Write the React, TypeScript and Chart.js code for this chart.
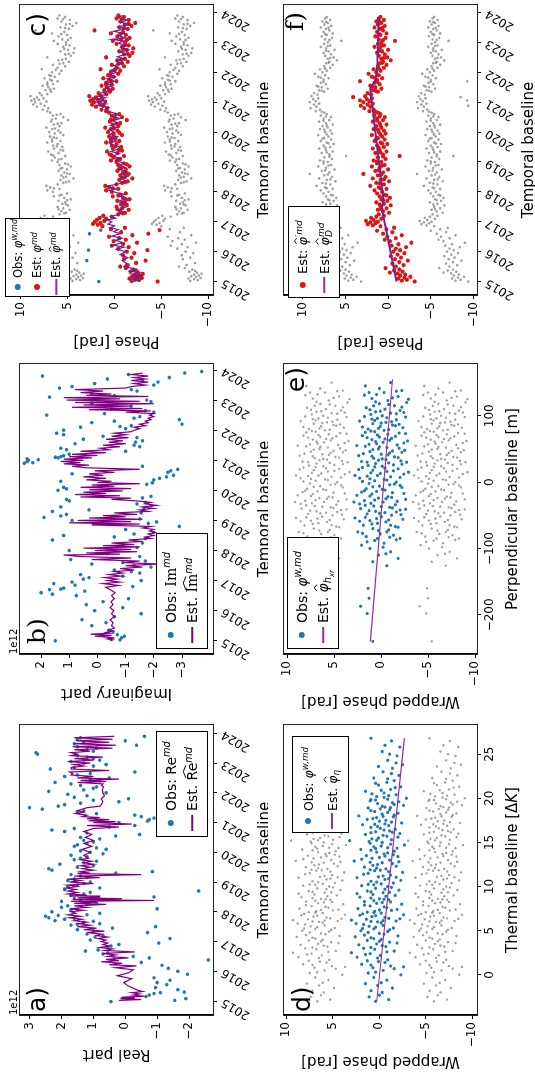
import React, { useEffect, useRef } from "react";
import { Chart, registerables } from "chart.js";
Chart.register(...registerables);

type Pt = [number, number];
const TAU = 2 * Math.PI;
const SANS = '"DejaVu Sans", sans-serif';
const SERIF = '"DejaVu Serif", serif';
Chart.defaults.font.family = SANS;

// ---------------- DATA ----------------
const yearTicks = [2015, 2016, 2017, 2018, 2019, 2020, 2021, 2022, 2023, 2024];
const realTicks = [-2, -1, 0, 1, 2, 3];
const imagTicks = [-3, -2, -1, 0, 1, 2];
const phaseTicks = [-10, -5, 0, 5, 10];
const thermalTicks = [0, 5, 10, 15, 20, 25];
const perpTicks = [-200, -100, 0, 100];

// a) real part (x1e12)
const realObs: Pt[] = [[2014.98,0.45],[2015.02,-1.55],[2015.08,-1.9],[2015.15,-0.65],[2015.2,-0.75],[2015.25,-0.9],[2015.28,-1.1],[2015.3,-1.85],[2015.38,-1.65],[2015.45,-0.95],[2015.55,-1.3],[2015.62,-1.0],[2015.7,-1.4],[2015.78,-0.9],[2015.9,-1.95],[2016.0,-1.65],[2016.1,-1.35],[2016.2,-1.15],[2016.3,-0.5],[2016.38,-2.6],[2016.42,0.35],[2016.45,-0.75],[2016.5,-0.25],[2016.58,0.7],[2016.62,0.55],[2016.68,1.25],[2016.72,0.85],[2016.8,0.55],[2016.85,0.45],[2016.9,0.2],[2016.95,-1.05],[2017.05,1.1],[2017.1,-1.4],[2017.15,0.95],[2017.2,0.7],[2017.25,1.2],[2017.3,-0.7],[2017.35,1.0],[2017.4,1.5],[2017.45,0.4],[2017.5,-0.95],[2017.55,1.7],[2017.6,0.8],[2017.65,1.3],[2017.7,2.2],[2017.75,1.9],[2017.8,2.4],[2017.85,2.5],[2017.9,1.2],[2017.95,0.8],[2018.0,2.3],[2018.05,1.7],[2018.1,-1.0],[2018.15,2.0],[2018.2,1.8],[2018.3,0.9],[2018.4,1.4],[2018.5,-0.9],[2018.55,1.7],[2018.6,1.3],[2018.7,-2.3],[2018.75,1.9],[2018.8,0.8],[2018.9,1.5],[2019.0,1.1],[2019.1,1.6],[2019.2,1.4],[2019.3,0.3],[2019.35,-0.85],[2019.4,2.3],[2019.45,2.4],[2019.5,1.5],[2019.6,2.05],[2019.65,1.3],[2019.7,0.9],[2019.8,1.4],[2019.9,1.7],[2020.0,1.1],[2020.1,0.6],[2020.2,1.6],[2020.3,1.2],[2020.4,1.3],[2020.5,1.4],[2020.55,0.3],[2020.6,-0.45],[2020.7,1.9],[2020.75,2.3],[2020.8,1.6],[2020.85,0.5],[2020.9,-0.3],[2021.0,0.2],[2021.05,-0.7],[2021.1,-0.75],[2021.15,-0.9],[2021.2,-0.5],[2021.25,-0.3],[2021.3,0.9],[2021.4,1.3],[2021.45,2.6],[2021.5,3.0],[2021.55,2.1],[2021.6,1.9],[2021.65,1.4],[2021.7,0.2],[2021.75,1.0],[2021.8,-0.1],[2021.85,1.6],[2021.9,1.2],[2022.0,0.6],[2022.05,2.4],[2022.1,1.3],[2022.2,0.9],[2022.3,1.7],[2022.35,2.2],[2022.45,1.1],[2022.5,0.5],[2022.6,1.5],[2022.7,-0.3],[2022.75,-1.05],[2022.8,2.35],[2022.9,1.0],[2023.0,1.3],[2023.1,0.8],[2023.2,1.2],[2023.3,2.75],[2023.35,2.8],[2023.4,1.0],[2023.5,0.9],[2023.55,1.5],[2023.6,-0.35],[2023.7,1.3],[2023.75,0.0],[2023.8,1.5],[2023.85,1.4],[2023.9,-0.6],[2017.58,1.5],[2017.68,1.0],[2017.78,1.6],[2017.88,2.1],[2018.08,1.5],[2018.25,1.2],[2018.35,2.0],[2018.45,1.6],[2018.65,1.1],[2018.85,1.8],[2018.95,1.3],[2019.05,1.8],[2019.15,1.2],[2019.25,1.7],[2019.55,1.0],[2019.75,1.6],[2019.85,1.2],[2019.95,0.7],[2020.05,1.4],[2020.15,0.9],[2020.25,1.5],[2020.35,1.0],[2020.45,0.8],[2020.65,1.2],[2021.35,1.5],[2021.95,1.8],[2022.15,1.0],[2022.25,1.4],[2022.4,0.8],[2022.55,1.9],[2022.65,1.1],[2022.85,1.6],[2022.95,0.6],[2023.05,1.7],[2023.15,1.0],[2023.25,1.5],[2023.45,1.2],[2023.65,1.6]];
const realEst: Pt[] = [[2015.02,0.2],[2015.05,-0.5],[2015.08,0.15],[2015.1,-0.3],[2015.13,0.1],[2015.16,-0.6],[2015.2,-0.25],[2015.24,-0.45],[2015.28,-0.2],[2015.32,-0.55],[2015.36,-0.4],[2015.5,-0.1],[2015.62,0.05],[2015.75,-0.2],[2015.85,0.25],[2015.95,-0.1],[2016.05,-0.25],[2016.12,0.3],[2016.18,-0.35],[2016.22,0.5],[2016.27,0.1],[2016.32,0.75],[2016.36,0.2],[2016.4,0.6],[2016.45,-0.1],[2016.5,0.55],[2016.55,0.3],[2016.6,0.7],[2016.65,-0.3],[2016.7,0.65],[2016.75,0.4],[2016.8,0.8],[2016.85,0.5],[2016.9,0.7],[2016.95,0.55],[2017.0,0.75],[2017.05,0.6],[2017.1,0.85],[2017.15,0.55],[2017.2,0.9],[2017.25,0.75],[2017.3,1.2],[2017.35,0.65],[2017.4,1.3],[2017.45,0.9],[2017.5,1.5],[2017.55,1.1],[2017.6,1.45],[2017.65,1.2],[2017.7,1.6],[2017.75,1.35],[2017.8,1.75],[2017.85,1.4],[2017.9,1.8],[2017.95,1.55],[2018.0,1.7],[2018.05,1.3],[2018.1,1.75],[2018.15,1.2],[2018.2,1.6],[2018.25,0.6],[2018.28,1.6],[2018.32,0.9],[2018.35,1.7],[2018.38,-0.9],[2018.41,1.65],[2018.44,0.1],[2018.47,1.5],[2018.5,0.8],[2018.53,1.75],[2018.56,1.2],[2018.6,1.8],[2018.65,1.5],[2018.7,1.8],[2018.75,1.55],[2018.8,1.85],[2018.85,1.5],[2018.9,1.8],[2018.95,1.0],[2019.0,1.75],[2019.05,1.4],[2019.1,1.8],[2019.15,0.8],[2019.2,1.6],[2019.25,-0.5],[2019.28,1.5],[2019.3,1.1],[2019.35,1.4],[2019.4,1.0],[2019.45,1.35],[2019.5,1.1],[2019.55,1.4],[2019.6,1.0],[2019.65,1.3],[2019.7,1.05],[2019.75,1.4],[2019.8,1.15],[2019.9,1.3],[2020.0,1.1],[2020.1,1.35],[2020.2,1.05],[2020.3,1.3],[2020.4,1.0],[2020.5,1.25],[2020.6,1.05],[2020.7,1.3],[2020.8,1.0],[2020.85,0.2],[2020.9,1.2],[2020.95,-0.2],[2021.0,1.0],[2021.03,0.3],[2021.06,1.15],[2021.1,0.5],[2021.13,1.2],[2021.17,0.8],[2021.2,1.35],[2021.25,1.2],[2021.3,1.55],[2021.35,1.3],[2021.4,1.5],[2021.45,1.35],[2021.5,1.2],[2021.55,0.8],[2021.6,0.75],[2021.7,0.7],[2021.8,0.75],[2021.9,0.65],[2022.0,0.7],[2022.1,0.72],[2022.2,0.68],[2022.25,0.75],[2022.3,0.7],[2022.35,1.5],[2022.38,0.6],[2022.42,1.4],[2022.46,0.2],[2022.5,1.5],[2022.55,1.0],[2022.6,1.7],[2022.65,1.65],[2022.7,1.75],[2022.75,0.5],[2022.8,1.7],[2022.85,1.7],[2022.9,1.3],[2022.95,1.6],[2023.0,1.1],[2023.05,1.8],[2023.1,1.0],[2023.15,1.6],[2023.2,0.7],[2023.25,1.7],[2023.3,1.5],[2023.35,1.7],[2023.4,1.1],[2023.45,1.6],[2023.5,0.4],[2023.55,1.65],[2023.6,0.3],[2023.65,1.6],[2023.7,0.5],[2023.75,1.55],[2023.8,0.4],[2023.85,1.6],[2023.9,0.35]];

// b) imaginary part (x1e12)
const imagObs: Pt[] = [[2015.0,1.5],[2015.03,-0.8],[2015.1,-0.85],[2015.15,-0.95],[2015.2,-0.7],[2015.3,-0.55],[2015.35,-0.4],[2015.5,0.2],[2015.6,-0.3],[2015.7,0.55],[2015.8,-0.6],[2015.9,-1.55],[2016.0,0.1],[2016.1,-0.9],[2016.2,0.4],[2016.3,-0.2],[2016.4,-1.1],[2016.5,0.75],[2016.6,2.0],[2016.65,0.45],[2016.7,1.7],[2016.75,1.2],[2016.8,-1.25],[2016.85,0.8],[2016.9,1.55],[2016.95,0.9],[2017.0,-1.55],[2017.05,0.5],[2017.1,0.3],[2017.15,-0.9],[2017.2,0.6],[2017.3,-1.2],[2017.35,-0.6],[2017.45,-1.9],[2017.5,-1.3],[2017.55,0.2],[2017.6,-0.9],[2017.7,0.95],[2017.8,-1.5],[2017.9,-0.35],[2018.0,1.0],[2018.1,-1.4],[2018.2,-0.9],[2018.3,-2.25],[2018.35,1.6],[2018.4,-1.7],[2018.45,-0.6],[2018.5,1.2],[2018.6,-2.0],[2018.7,-1.0],[2018.8,-2.9],[2018.9,-1.8],[2019.0,0.9],[2019.05,-1.5],[2019.1,1.9],[2019.2,1.1],[2019.25,-1.55],[2019.3,1.6],[2019.35,0.3],[2019.4,-1.65],[2019.45,1.3],[2019.5,-1.9],[2019.6,-1.7],[2019.7,1.1],[2019.75,-1.6],[2019.8,-1.9],[2020.0,1.4],[2020.1,1.2],[2020.2,-1.75],[2020.3,1.3],[2020.35,-2.0],[2020.45,-2.45],[2020.5,-2.7],[2020.55,0.9],[2020.6,-2.5],[2020.7,-2.85],[2020.8,-1.6],[2020.9,2.6],[2020.95,2.5],[2021.0,2.45],[2021.02,2.1],[2021.05,2.5],[2021.08,1.4],[2021.1,1.5],[2021.15,1.2],[2021.2,1.0],[2021.3,-1.0],[2021.4,1.3],[2021.5,-1.3],[2021.55,0.8],[2021.6,-1.35],[2021.65,-1.6],[2021.7,0.5],[2021.8,-0.2],[2021.9,1.45],[2022.0,1.2],[2022.05,-1.0],[2022.1,0.6],[2022.15,-1.2],[2022.2,-3.0],[2022.25,0.2],[2022.3,-0.6],[2022.35,-2.9],[2022.4,-1.3],[2022.5,1.8],[2022.55,-0.25],[2022.6,-2.0],[2022.7,-0.5],[2022.8,-1.2],[2022.9,0.2],[2023.0,-1.75],[2023.1,1.7],[2023.2,0.2],[2023.3,-1.4],[2023.4,1.35],[2023.45,0.9],[2023.5,-2.0],[2023.55,0.1],[2023.6,-2.15],[2023.7,-0.35],[2023.75,-2.55],[2023.8,1.95],[2023.85,-1.1],[2023.9,-3.1],[2023.95,-3.7],[2016.55,1.6],[2016.72,1.3],[2017.25,-1.5],[2017.65,-1.7],[2018.25,-1.6],[2018.55,-1.3],[2018.95,-2.1],[2019.15,1.3],[2019.55,-1.4],[2019.65,1.0],[2020.05,1.1],[2020.25,-1.95],[2020.4,-2.2],[2020.65,-2.6],[2020.92,2.3],[2021.12,1.3],[2021.35,1.1],[2021.45,-1.5],[2021.75,-1.4],[2021.85,1.2],[2022.12,-0.8],[2022.45,-1.5],[2022.65,-1.7],[2022.95,-1.9],[2023.15,-0.6],[2023.35,-1.2],[2023.65,-1.6]];
const imagEst: Pt[] = [[2015.0,-0.45],[2015.03,-0.55],[2015.06,-0.35],[2015.09,-0.6],[2015.12,-0.4],[2015.15,0.1],[2015.18,-0.5],[2015.22,0.25],[2015.25,-0.45],[2015.28,-0.3],[2015.32,-0.55],[2015.36,-0.4],[2015.42,-0.6],[2015.5,-0.5],[2015.6,-0.55],[2015.7,-0.45],[2015.8,-0.6],[2015.9,-0.5],[2016.0,-0.58],[2016.1,-0.45],[2016.2,-0.55],[2016.3,-0.48],[2016.4,-0.6],[2016.5,-0.5],[2016.6,-0.62],[2016.7,-0.45],[2016.78,-0.3],[2016.84,-0.75],[2016.9,-0.2],[2016.95,-0.8],[2017.0,-0.35],[2017.05,-0.7],[2017.1,-0.25],[2017.15,-0.85],[2017.2,-0.4],[2017.25,-0.9],[2017.3,-0.6],[2017.35,-1.3],[2017.4,-0.8],[2017.45,-1.6],[2017.5,-1.0],[2017.55,-2.2],[2017.6,-0.9],[2017.65,-1.5],[2017.7,0.2],[2017.75,-1.2],[2017.8,0.6],[2017.85,1.2],[2017.88,-0.8],[2017.92,0.4],[2017.96,-1.4],[2018.0,0.1],[2018.04,-1.2],[2018.08,0.5],[2018.12,-1.5],[2018.16,-0.2],[2018.2,-1.3],[2018.25,-0.5],[2018.3,-1.6],[2018.35,-1.1],[2018.4,-1.9],[2018.45,-1.7],[2018.5,-2.0],[2018.55,-1.8],[2018.6,-2.05],[2018.65,-1.85],[2018.7,-2.0],[2018.75,-1.6],[2018.8,-1.9],[2018.85,0.2],[2018.88,-1.5],[2018.92,1.0],[2018.96,-1.2],[2019.0,0.7],[2019.04,-1.6],[2019.08,0.3],[2019.12,-1.0],[2019.16,-0.2],[2019.2,-1.4],[2019.25,-0.6],[2019.3,-1.8],[2019.35,-1.5],[2019.4,-2.0],[2019.45,-1.6],[2019.5,-2.1],[2019.55,-1.7],[2019.6,-1.9],[2019.65,-1.4],[2019.7,-0.5],[2019.74,-1.2],[2019.78,0.6],[2019.82,-0.8],[2019.86,0.8],[2019.9,-0.3],[2019.94,0.5],[2019.98,-0.9],[2020.02,0.3],[2020.06,-1.2],[2020.1,0.6],[2020.14,-0.6],[2020.18,0.2],[2020.22,-1.5],[2020.26,0.0],[2020.3,-0.5],[2020.35,0.4],[2020.4,-0.3],[2020.45,0.5],[2020.5,-0.2],[2020.55,0.3],[2020.6,-0.6],[2020.65,0.1],[2020.7,-1.5],[2020.75,0.4],[2020.8,0.9],[2020.84,0.3],[2020.88,1.2],[2020.92,0.6],[2020.96,1.3],[2021.0,0.5],[2021.04,1.2],[2021.08,0.2],[2021.12,1.0],[2021.16,0.0],[2021.2,0.9],[2021.25,-0.3],[2021.3,0.6],[2021.35,-0.4],[2021.4,-0.1],[2021.45,-0.8],[2021.5,-0.2],[2021.55,-1.0],[2021.6,-0.4],[2021.65,-0.9],[2021.7,-0.3],[2021.75,-1.1],[2021.8,-0.5],[2021.85,-1.0],[2021.9,-0.6],[2021.95,-1.2],[2022.0,-1.3],[2022.05,-1.5],[2022.1,-1.3],[2022.15,-1.7],[2022.2,-1.5],[2022.25,-1.8],[2022.3,-1.7],[2022.35,-1.9],[2022.4,-1.8],[2022.45,-2.0],[2022.5,-1.85],[2022.55,-2.0],[2022.6,-1.0],[2022.64,-1.9],[2022.68,0.3],[2022.72,-1.6],[2022.76,0.9],[2022.8,-1.2],[2022.84,0.5],[2022.88,-2.0],[2022.92,0.8],[2022.96,-1.5],[2023.0,1.1],[2023.04,-0.8],[2023.08,1.2],[2023.12,-1.8],[2023.16,0.4],[2023.2,-0.5],[2023.25,0.6],[2023.3,-0.2],[2023.35,0.8],[2023.4,-1.0],[2023.45,-1.2],[2023.5,-1.7],[2023.55,-1.3],[2023.6,-1.8],[2023.65,-1.2],[2023.7,-1.7],[2023.75,-1.3],[2023.8,-1.8],[2023.85,-1.2],[2023.9,-1.6]];

// c) phase [rad], estimated unwrapped phase (red) and estimate line
const phaseEst: Pt[] = [[2015.0,-4.6],[2015.02,-1.8],[2015.05,-2.6],[2015.08,-2.2],[2015.1,-1.6],[2015.12,-2.9],[2015.15,-2.4],[2015.18,-1.9],[2015.2,-2.7],[2015.23,-2.2],[2015.26,-3.0],[2015.3,-2.5],[2015.33,-1.7],[2015.36,-2.3],[2015.4,-2.0],[2015.45,-1.2],[2015.5,-0.6],[2015.55,-1.4],[2015.62,-2.3],[2015.7,-3.3],[2015.75,-1.0],[2015.8,-1.8],[2015.88,-0.9],[2015.95,-2.1],[2016.0,-1.3],[2016.05,-3.5],[2016.1,-0.4],[2016.15,-1.5],[2016.2,0.3],[2016.25,-0.9],[2016.3,-2.4],[2016.35,0.1],[2016.4,-1.2],[2016.45,-0.5],[2016.5,0.6],[2016.55,-1.9],[2016.6,-3.6],[2016.65,-0.7],[2016.72,-4.8],[2016.75,0.4],[2016.8,-1.1],[2016.85,1.3],[2016.9,1.8],[2016.93,2.3],[2016.96,1.5],[2017.0,2.1],[2017.03,1.1],[2017.06,1.9],[2017.1,0.9],[2017.13,1.6],[2017.17,0.3],[2017.2,1.2],[2017.25,-0.4],[2017.3,-1.1],[2017.35,-0.6],[2017.4,-1.5],[2017.45,-0.8],[2017.5,-0.2],[2017.55,-1.3],[2017.6,-0.7],[2017.65,-1.0],[2017.7,-0.3],[2017.75,-1.6],[2017.8,-0.9],[2017.85,0.2],[2017.9,-0.6],[2017.95,-1.2],[2018.0,0.3],[2018.05,0.9],[2018.1,-0.4],[2018.15,0.6],[2018.2,1.0],[2018.25,-0.2],[2018.3,-0.8],[2018.35,-1.4],[2018.4,-0.5],[2018.45,-1.9],[2018.5,-1.1],[2018.55,-0.6],[2018.6,-1.5],[2018.65,-0.9],[2018.7,-0.3],[2018.75,-1.2],[2018.8,-0.7],[2018.85,-1.6],[2018.9,-0.4],[2018.95,-1.0],[2019.0,-0.2],[2019.05,0.4],[2019.1,-0.6],[2019.15,0.1],[2019.2,-1.0],[2019.25,0.5],[2019.3,-0.3],[2019.35,0.8],[2019.4,-0.5],[2019.45,0.2],[2019.5,-0.7],[2019.55,0.3],[2019.6,-0.2],[2019.65,0.9],[2019.7,-0.5],[2019.75,0.4],[2019.8,-0.1],[2019.85,0.6],[2019.9,-0.8],[2019.95,0.1],[2020.0,0.7],[2020.05,-0.3],[2020.1,0.4],[2020.15,1.0],[2020.2,-0.4],[2020.25,0.2],[2020.3,-0.6],[2020.35,0.5],[2020.4,-1.3],[2020.45,0.0],[2020.5,-0.8],[2020.55,0.3],[2020.6,-0.5],[2020.65,0.6],[2020.7,0.9],[2020.75,1.4],[2020.8,0.8],[2020.85,2.0],[2020.88,1.2],[2020.92,2.4],[2020.95,1.6],[2021.0,2.2],[2021.02,1.0],[2021.05,2.6],[2021.08,1.8],[2021.1,2.3],[2021.13,1.3],[2021.16,2.0],[2021.2,2.7],[2021.23,1.5],[2021.27,0.9],[2021.3,1.7],[2021.35,0.5],[2021.4,1.1],[2021.45,0.2],[2021.5,0.8],[2021.55,1.4],[2021.6,0.3],[2021.65,0.9],[2021.7,-0.2],[2021.75,0.6],[2021.8,1.2],[2021.85,0.1],[2021.9,0.7],[2021.95,-0.4],[2022.0,0.4],[2022.05,-0.6],[2022.1,1.5],[2022.15,-0.2],[2022.2,-1.0],[2022.25,0.3],[2022.3,-0.8],[2022.35,-1.4],[2022.4,-0.3],[2022.45,-1.1],[2022.5,0.9],[2022.55,-1.6],[2022.6,-1.0],[2022.65,-1.9],[2022.7,-0.5],[2022.75,-1.3],[2022.8,-2.0],[2022.85,-0.8],[2022.9,-1.5],[2022.95,-0.2],[2023.0,-1.1],[2023.05,0.2],[2023.1,-0.7],[2023.15,-1.6],[2023.2,-0.3],[2023.25,-1.2],[2023.3,0.4],[2023.35,-0.9],[2023.4,2.15],[2023.45,-1.4],[2023.5,-0.5],[2023.55,-1.8],[2023.6,-1.1],[2023.65,-2.2],[2023.7,-0.6],[2023.75,-1.5],[2023.8,-0.2],[2023.85,-1.0],[2023.9,-0.4],[2017.28,-0.9],[2017.42,-0.3],[2017.58,-1.1],[2017.72,-1.2],[2017.88,-0.4],[2018.12,0.2],[2018.32,-1.1],[2018.48,-0.8],[2018.62,-1.2],[2018.78,-0.5],[2018.92,-1.3],[2019.08,-0.3],[2019.22,0.3],[2019.38,-0.8],[2019.52,-0.1],[2019.68,0.4],[2019.82,0.2],[2019.98,-0.5],[2020.12,0.1],[2020.28,-0.2],[2020.42,0.4],[2020.58,-0.1],[2021.42,0.6],[2021.58,0.9],[2021.72,0.4],[2021.88,0.5],[2022.08,0.0],[2022.28,-0.4],[2022.42,-0.7],[2022.62,-1.4],[2022.78,-0.9],[2022.92,-1.1],[2023.08,-1.3],[2023.28,-0.6],[2023.48,-1.0],[2023.62,-1.5],[2023.78,-0.8]];
const phaseEstLine: Pt[] = [[2015.0,-1.9],[2015.04,-2.5],[2015.08,-1.7],[2015.12,-2.7],[2015.16,-2.0],[2015.2,-2.8],[2015.25,-1.9],[2015.3,-2.6],[2015.35,-1.6],[2015.42,-2.2],[2015.5,-1.0],[2015.6,-1.3],[2015.7,-0.8],[2015.8,-1.4],[2015.9,-0.6],[2016.0,-1.2],[2016.08,-0.2],[2016.15,-1.0],[2016.22,0.2],[2016.3,-0.9],[2016.38,-0.1],[2016.45,-0.8],[2016.52,0.3],[2016.6,-0.6],[2016.67,0.1],[2016.74,-0.4],[2016.8,0.5],[2016.86,0.0],[2016.92,0.7],[2017.0,0.3],[2017.06,0.8],[2017.12,-0.1],[2017.18,0.4],[2017.25,-0.5],[2017.32,-0.9],[2017.4,-0.4],[2017.48,-1.1],[2017.55,-0.6],[2017.62,-1.3],[2017.7,-0.5],[2017.78,-1.4],[2017.85,-0.7],[2017.92,-1.0],[2018.0,0.1],[2018.05,0.6],[2018.1,-0.2],[2018.15,0.5],[2018.2,0.8],[2018.25,-0.3],[2018.3,-0.7],[2018.38,-1.2],[2018.45,-0.6],[2018.52,-1.4],[2018.6,-0.8],[2018.68,-1.3],[2018.75,-0.5],[2018.82,-1.1],[2018.9,-0.6],[2018.97,-0.9],[2019.05,-0.1],[2019.12,-0.6],[2019.2,0.2],[2019.28,-0.5],[2019.35,0.4],[2019.42,-0.3],[2019.5,-0.6],[2019.57,0.2],[2019.64,0.6],[2019.7,-0.2],[2019.78,0.4],[2019.85,-0.3],[2019.92,0.5],[2020.0,0.1],[2020.08,0.6],[2020.15,-0.2],[2020.22,0.4],[2020.3,-0.4],[2020.38,0.3],[2020.45,-0.6],[2020.52,0.2],[2020.6,-0.3],[2020.68,0.5],[2020.75,1.0],[2020.82,0.6],[2020.88,1.7],[2020.94,0.9],[2021.0,1.9],[2021.05,1.1],[2021.1,2.0],[2021.15,1.0],[2021.2,1.8],[2021.26,0.8],[2021.32,1.3],[2021.4,0.4],[2021.47,1.0],[2021.55,0.2],[2021.62,0.9],[2021.7,0.0],[2021.78,0.8],[2021.85,-0.1],[2021.92,0.5],[2022.0,-0.2],[2022.07,0.4],[2022.14,-0.5],[2022.22,0.1],[2022.3,-0.7],[2022.38,-0.2],[2022.45,-1.0],[2022.52,-0.3],[2022.6,-1.2],[2022.68,-0.6],[2022.75,-1.5],[2022.82,-0.7],[2022.9,-1.3],[2022.97,-0.4],[2023.05,-0.9],[2023.1,0.3],[2023.15,-1.2],[2023.22,-0.4],[2023.3,-1.0],[2023.37,0.1],[2023.45,-1.1],[2023.52,-0.4],[2023.6,-1.5],[2023.67,-0.7],[2023.75,-1.3],[2023.82,-0.4],[2023.9,-0.8]];

// d) thermal baseline vs wrapped phase
const thermalObs: Pt[] = [[-3.0,0.4],[-2.8,-1.0],[-2.5,1.1],[-2.0,-0.3],[-1.8,0.9],[-1.5,-1.4],[-1.2,0.2],[-1.0,1.5],[-0.6,-0.8],[-0.3,0.6],[0.0,-2.3],[0.2,1.2],[0.5,-0.4],[0.8,0.7],[1.0,-1.2],[1.2,1.9],[1.5,0.1],[1.7,-0.9],[2.0,2.4],[2.2,-0.1],[2.4,1.0],[2.5,3.0],[2.7,-1.6],[2.9,0.5],[3.0,1.7],[3.2,-0.7],[3.4,2.2],[3.5,0.3],[3.7,-1.1],[3.9,1.3],[4.0,-0.2],[4.2,0.9],[4.4,-2.0],[4.5,1.6],[4.7,0.0],[4.9,-0.9],[5.0,2.0],[5.2,0.6],[5.3,-1.5],[5.5,1.1],[5.6,-0.4],[5.8,2.5],[6.0,0.2],[6.1,-1.8],[6.2,3.0],[6.3,1.4],[6.5,-0.6],[6.6,0.8],[6.8,-2.6],[6.9,1.8],[7.0,-0.2],[7.2,0.5],[7.3,-1.3],[7.5,2.3],[7.6,-0.8],[7.8,1.0],[8.0,-2.4],[8.1,0.3],[8.3,1.6],[8.5,-1.0],[8.6,0.0],[8.8,2.1],[9.0,-1.7],[9.1,0.7],[9.3,-0.4],[9.5,1.3],[9.6,-2.1],[9.8,0.4],[10.0,-0.9],[10.1,1.9],[10.3,-0.2],[10.4,-1.5],[10.6,0.9],[10.8,-0.6],[11.0,2.4],[11.1,0.1],[11.3,-1.2],[11.5,1.2],[11.6,-2.5],[11.8,0.5],[12.0,-0.7],[12.2,1.6],[12.3,-1.8],[12.5,0.2],[12.7,-0.3],[12.9,2.7],[13.0,-1.1],[13.2,0.8],[13.4,-2.0],[13.5,1.4],[13.7,-0.5],[13.9,0.3],[14.0,-1.6],[14.2,2.0],[14.4,-0.9],[14.5,0.6],[14.7,-2.7],[14.9,1.0],[15.0,-0.3],[15.2,3.2],[15.3,-1.3],[15.5,0.1],[15.7,-0.8],[15.9,1.5],[16.0,-2.2],[16.2,0.4],[16.4,-0.5],[16.5,-1.7],[16.7,0.9],[16.9,-1.0],[17.0,1.8],[17.2,-2.4],[17.4,0.0],[17.5,-0.7],[17.7,0.7],[17.9,-1.5],[18.0,2.2],[18.2,-0.3],[18.3,-2.0],[18.5,0.5],[18.7,-1.1],[18.9,1.2],[19.0,-0.6],[19.2,-2.6],[19.4,0.2],[19.5,-1.4],[19.7,1.0],[19.9,-0.9],[20.0,-2.9],[20.2,0.3],[20.4,-1.8],[20.6,-0.5],[20.8,1.5],[21.0,-1.2],[21.3,-2.3],[21.5,0.1],[21.8,-0.8],[22.0,-1.6],[22.3,0.6],[22.6,-2.1],[23.0,-0.4],[23.4,-1.4],[23.8,-2.5],[24.3,-0.9],[24.8,-1.9],[25.3,-0.3],[25.8,-2.2],[26.5,-1.3],[26.8,0.9],[3.3,-0.3],[4.8,1.2],[5.4,0.4],[6.4,-1.0],[7.1,1.3],[7.7,-0.5],[8.4,0.6],[8.9,-0.7],[9.4,0.9],[9.9,-1.3],[10.5,0.3],[11.2,-0.4],[11.9,1.0],[12.6,-1.4],[13.3,0.0],[13.8,-0.9],[14.3,0.4],[14.8,-1.2],[15.4,0.8],[15.8,-0.4],[16.3,-1.1],[16.8,0.2],[17.3,-1.3],[17.8,0.3],[18.4,-0.9],[18.8,-0.1],[19.3,-1.6],[19.8,0.4],[20.3,-1.0],[20.9,-0.2],[5.9,-0.2],[6.7,0.4],[8.2,-0.3],[10.9,-1.0],[12.4,0.7],[0.3,0.4],[0.7,-1.6],[1.1,0.9],[1.4,-0.6],[1.9,0.2],[2.3,1.5],[2.6,-0.8],[3.1,0.9],[3.6,-1.9],[4.1,0.6],[4.3,2.6],[4.6,-0.5],[5.1,-1.1],[5.7,1.7],[6.05,0.9],[6.35,-2.2],[6.75,2.1],[7.05,0.6],[7.4,-1.9],[7.9,1.6],[8.25,-1.2],[8.7,0.9],[9.2,2.4],[9.7,-0.6],[10.2,0.6],[10.7,-2.3],[11.4,1.7],[11.7,-1.0],[12.1,0.3],[12.8,-2.1],[13.1,1.9],[13.6,-1.5],[14.1,0.9],[14.6,-0.2],[15.1,1.1],[15.6,-2.0],[16.1,0.9],[16.6,-0.1],[17.1,-0.6],[17.6,1.3],[18.1,-1.6],[18.6,0.9],[19.1,-0.3],[19.6,-2.1],[20.1,-0.5],[20.5,0.8],[21.2,-1.7],[21.7,0.4],[22.2,-0.9],[22.8,-1.3],[23.6,0.1],[24.0,-1.8],[25.0,-1.1],[26.0,-0.6],[1.6,1.3],[3.8,0.0],[5.25,1.8],[6.15,-0.4],[7.35,0.0],[8.55,-0.5],[9.35,-1.1],[10.25,1.2],[11.05,-1.8],[11.85,-0.1],[12.75,1.0],[13.45,-0.6],[14.35,-1.9],[15.25,0.3],[16.15,-1.4],[17.05,0.5],[17.95,-0.4],[18.95,-1.2],[19.85,0.9],[-2.3,0.0],[-0.9,-0.2],[0.9,-2.6]];
const thermalFit: Pt[] = [[-3.0,0.28],[26.8,-2.7]];

// e) perpendicular baseline vs wrapped phase
const perpObs: Pt[] = [[-240,0.9],[-187,2.2],[-175,1.3],[-126,-0.6],[-110,0.3],[-105,-1.0],[-100,1.2],[-95,2.1],[-92,-0.3],[-88,0.7],[-85,-2.0],[-82,1.6],[-80,-1.3],[-78,0.1],[-75,2.5],[-72,-0.8],[-70,0.9],[-68,-1.8],[-65,1.9],[-62,0.4],[-60,-0.5],[-58,1.2],[-56,-2.3],[-54,2.8],[-52,0.0],[-50,-1.1],[-48,1.5],[-46,-0.4],[-44,0.6],[-42,-2.0],[-40,2.2],[-38,-0.9],[-36,0.8],[-34,-1.5],[-32,1.1],[-30,-0.2],[-28,1.8],[-26,-2.6],[-24,0.3],[-22,-0.7],[-20,2.6],[-18,1.0],[-16,-1.2],[-14,0.5],[-12,-0.4],[-10,1.6],[-8,-2.2],[-6,0.2],[-4,-0.9],[-2,1.3],[0,-1.6],[2,0.7],[4,-0.3],[6,2.3],[8,-1.0],[10,0.4],[12,-2.4],[14,1.1],[16,-0.6],[18,0.9],[20,-1.8],[22,2.0],[24,-0.1],[26,-1.3],[28,0.6],[30,1.5],[32,-2.1],[34,-0.5],[36,0.8],[38,-1.4],[40,2.4],[42,0.0],[44,-0.9],[46,1.2],[48,-2.5],[50,0.3],[52,-0.6],[54,1.7],[56,-1.7],[58,0.5],[60,-0.2],[62,-2.8],[64,1.0],[66,-1.1],[68,0.2],[70,2.0],[72,-0.7],[74,-1.9],[76,0.7],[78,-0.3],[80,1.4],[82,-2.3],[84,0.1],[86,-1.2],[88,0.9],[90,-0.5],[92,2.3],[94,-1.6],[96,0.4],[98,-2.6],[100,-0.1],[102,1.1],[104,-1.0],[106,0.6],[108,-2.0],[110,-0.4],[112,1.6],[115,-1.4],[118,0.2],[120,-2.7],[123,-0.7],[126,1.0],[129,-1.8],[132,0.5],[135,-0.3],[138,-2.2],[145,1.7],[150,-1.0],[-45,-1.6],[-35,1.7],[-25,-0.5],[-15,2.1],[-5,-2.0],[5,1.2],[15,-2.9],[25,1.4],[35,-0.1],[45,-2.2],[55,2.6],[65,-0.4],[75,1.7],[85,-1.5],[95,1.0],[105,-2.4],[115,0.8],[125,-2.9],[135,1.3],[-55,0.5],[-65,-1.0],[-75,-0.6],[-85,0.4],[30,-2.7],[10,2.8],[-30,2.9],[-198,1.5],[-160,1.4],[-120,0.9],[-115,-1.8],[-98,-0.2],[-90,1.5],[-83,-0.9],[-77,2.0],[-73,0.3],[-67,-1.5],[-63,1.0],[-57,-0.8],[-53,1.7],[-49,-2.1],[-47,0.2],[-43,1.3],[-39,-1.2],[-37,0.0],[-33,2.3],[-29,-1.7],[-27,0.7],[-23,-1.1],[-21,1.2],[-17,-2.4],[-13,1.8],[-11,-0.1],[-7,0.9],[-3,-1.4],[1,2.0],[3,-0.6],[7,-2.0],[9,1.5],[13,0.1],[17,-1.3],[19,2.4],[21,-0.4],[23,0.7],[27,-2.2],[29,-0.8],[31,2.1],[33,0.3],[37,-1.8],[39,1.0],[41,-0.7],[43,1.9],[47,-1.2],[49,0.9],[51,-1.9],[53,0.2],[57,1.3],[59,-2.4],[61,0.6],[63,-0.9],[67,1.5],[69,-1.5],[71,0.4],[73,-2.6],[77,1.1],[79,-0.8],[81,0.3],[83,2.0],[87,-1.9],[89,0.0],[91,-1.1],[93,0.7],[97,-0.6],[99,1.8],[103,-1.6],[107,0.1],[109,1.2],[113,-2.2],[117,-0.8],[121,0.6],[127,-1.2],[131,1.8],[137,-1.6],[141,0.2],[-108,-0.5],[-87,-1.6],[-59,2.3],[-41,-2.6]];
const perpFit: Pt[] = [[-240,1.15],[155,-1.2]];

// f) phase after removal (red) and displacement model (line)
const dispPhase: Pt[] = [[2015.0,-3.1],[2015.03,-1.6],[2015.06,-2.2],[2015.1,-1.2],[2015.13,-1.9],[2015.16,-2.6],[2015.2,-1.4],[2015.23,-2.0],[2015.27,-1.1],[2015.3,-0.2],[2015.33,-1.7],[2015.37,-0.7],[2015.4,-1.3],[2015.45,0.3],[2015.5,-0.9],[2015.55,-1.8],[2015.6,-0.5],[2015.65,-1.3],[2015.7,-2.3],[2015.75,-0.8],[2015.8,-1.5],[2015.85,-0.3],[2015.9,-1.1],[2015.95,-1.9],[2016.0,-0.6],[2016.05,-1.4],[2016.1,-0.9],[2016.15,-2.1],[2016.2,-0.4],[2016.25,-1.2],[2016.3,-2.7],[2016.35,-0.2],[2016.4,0.4],[2016.45,-0.9],[2016.5,0.1],[2016.55,-1.6],[2016.6,0.6],[2016.65,-0.5],[2016.7,1.3],[2016.75,0.2],[2016.8,-0.7],[2016.85,0.9],[2016.88,1.8],[2016.92,2.4],[2016.95,1.5],[2016.98,2.1],[2017.0,1.2],[2017.03,2.6],[2017.06,1.7],[2017.1,0.8],[2017.13,2.0],[2017.17,1.4],[2017.2,0.5],[2017.25,1.1],[2017.3,-0.1],[2017.35,0.6],[2017.4,1.2],[2017.45,0.2],[2017.5,0.9],[2017.55,-0.3],[2017.6,0.5],[2017.65,1.4],[2017.7,0.1],[2017.75,0.8],[2017.8,-0.2],[2017.85,1.0],[2017.9,0.4],[2017.95,1.3],[2018.0,0.7],[2018.05,1.6],[2018.1,0.2],[2018.15,1.1],[2018.2,2.1],[2018.25,0.5],[2018.3,1.4],[2018.35,-0.1],[2018.4,0.9],[2018.45,1.8],[2018.5,0.3],[2018.55,1.2],[2018.6,2.9],[2018.65,0.6],[2018.7,1.5],[2018.75,0.0],[2018.8,1.0],[2018.85,1.9],[2018.9,0.4],[2018.95,1.3],[2019.0,0.8],[2019.05,1.7],[2019.1,0.3],[2019.15,1.2],[2019.2,-1.35],[2019.25,0.6],[2019.3,1.5],[2019.35,0.2],[2019.4,1.0],[2019.45,1.8],[2019.5,0.5],[2019.55,1.3],[2019.6,0.1],[2019.65,0.9],[2019.7,1.6],[2019.75,0.4],[2019.8,1.2],[2019.85,0.7],[2019.9,1.9],[2019.95,0.3],[2020.0,1.1],[2020.05,0.5],[2020.1,1.7],[2020.15,0.8],[2020.2,1.4],[2020.25,0.2],[2020.3,1.0],[2020.35,1.8],[2020.4,0.6],[2020.45,1.3],[2020.5,0.4],[2020.55,1.6],[2020.6,0.9],[2020.65,1.2],[2020.7,2.2],[2020.75,1.7],[2020.8,2.8],[2020.85,2.1],[2020.88,3.2],[2020.92,2.4],[2020.95,1.8],[2021.0,2.9],[2021.03,2.2],[2021.06,3.3],[2021.1,2.5],[2021.13,1.9],[2021.17,4.1],[2021.2,2.7],[2021.25,2.0],[2021.3,2.4],[2021.35,1.2],[2021.4,1.8],[2021.45,0.8],[2021.5,1.5],[2021.55,2.1],[2021.6,1.0],[2021.65,1.6],[2021.7,3.3],[2021.75,1.3],[2021.8,0.7],[2021.85,1.9],[2021.9,1.1],[2021.95,2.3],[2022.0,1.4],[2022.05,0.9],[2022.1,1.7],[2022.15,0.5],[2022.2,1.2],[2022.25,0.2],[2022.3,1.0],[2022.35,0.6],[2022.4,-0.3],[2022.45,0.8],[2022.5,0.1],[2022.55,1.1],[2022.6,0.4],[2022.65,1.3],[2022.7,0.7],[2022.75,0.0],[2022.8,1.0],[2022.85,1.6],[2022.9,0.5],[2022.95,1.2],[2023.0,0.8],[2023.05,-0.8],[2023.1,1.1],[2023.15,0.3],[2023.2,1.5],[2023.25,0.9],[2023.3,0.2],[2023.35,1.3],[2023.4,0.6],[2023.45,1.0],[2023.5,1.6],[2023.55,0.4],[2023.6,1.2],[2023.65,0.8],[2023.7,1.4],[2023.75,0.5],[2023.8,1.1],[2023.85,0.9],[2017.42,0.8],[2017.58,1.0],[2017.72,0.6],[2017.88,0.2],[2018.12,0.9],[2018.28,1.0],[2018.42,0.5],[2018.58,0.8],[2018.72,1.1],[2018.88,0.7],[2019.02,1.3],[2019.18,0.6],[2019.32,0.9],[2019.48,1.1],[2019.62,0.7],[2019.78,1.4],[2019.92,0.9],[2020.08,1.2],[2020.22,0.9],[2020.38,1.3],[2020.52,1.0],[2020.68,1.5],[2021.38,1.5],[2021.52,1.9],[2021.68,1.3],[2021.82,1.6],[2022.12,1.1],[2022.32,0.7],[2022.48,0.5],[2022.72,1.0],[2022.88,0.8],[2023.08,0.6],[2023.28,1.1],[2023.48,0.7],[2023.68,1.0]];
const dispModel: Pt[] = [[2015.0,-0.97],[2017.45,0.75],[2017.7,0.55],[2021.45,2.1],[2021.75,1.45],[2022.2,1.3],[2023.85,1.1]];

// ---------------- helpers ----------------
const wrapPhase = (v: number) => v - TAU * Math.round(v / TAU);
const toXY = (pts: Pt[]) => pts.map(([x, y]) => ({ x, y }));
const wrapped = (pts: Pt[]): Pt[] => pts.map(([x, y]) => [x, wrapPhase(y)] as Pt);
const copies = (pts: Pt[]): Pt[] => pts.flatMap(([x, y]) => [[x, y + TAU], [x, y - TAU]] as Pt[]);
const fmt = (v: number) => String(v).replace("-", "\u2212");

const BLUE = "#1f77b4";
const RED = "#dd1515";
const GREY = "rgba(128,128,128,0.75)";
const PURPLE = "#800080";
const PURPLE2 = "#9a2a9a";

type Seg = { t: string; k?: "sup" | "sub" | "sub2"; it?: boolean; hat?: boolean; serif?: boolean; under?: string };
type LegItem = { kind: "dot" | "line"; color: string; segs: Seg[] };

function segFont(s: Seg, size: number) {
  let fs = size;
  if (s.k === "sup" || s.k === "sub") fs = size * 0.7;
  if (s.k === "sub2") fs = size * 0.5;
  return { fs, font: `${s.it ? "italic " : ""}${fs}px ${s.serif ? SERIF : SANS}` };
}
function richWidth(ctx: CanvasRenderingContext2D, segs: Seg[], size: number) {
  let w = 0;
  for (const s of segs) {
    const { font } = segFont(s, size);
    ctx.font = font;
    let sw = ctx.measureText(s.t).width;
    if (s.under) sw = Math.max(sw, ctx.measureText(s.under).width);
    w += sw;
  }
  return w;
}
function drawRich(ctx: CanvasRenderingContext2D, segs: Seg[], x: number, y: number, size: number) {
  let cx = x;
  for (const s of segs) {
    const { fs, font } = segFont(s, size);
    ctx.font = font;
    let dy = 0;
    if (s.k === "sup") dy = -size * 0.4;
    if (s.k === "sub") dy = size * 0.22;
    if (s.k === "sub2") dy = size * 0.38;
    ctx.fillText(s.t, cx, y + dy);
    let sw = ctx.measureText(s.t).width;
    if (s.hat) {
      const top = y + dy - fs * 0.82;
      ctx.beginPath();
      ctx.moveTo(cx + sw * 0.15, top);
      ctx.lineTo(cx + sw * 0.5, top - fs * 0.18);
      ctx.lineTo(cx + sw * 0.85, top);
      ctx.lineWidth = Math.max(0.8, fs * 0.07);
      ctx.strokeStyle = "#000";
      ctx.stroke();
    }
    if (s.under) {
      ctx.fillText(s.under, cx, y + size * 0.25);
      sw = Math.max(sw, ctx.measureText(s.under).width);
    }
    cx += sw;
  }
  return cx - x;
}

type PanelSpec = {
  id: string;
  cx: number; cy: number; cw: number; ch: number;
  box: { x: number; y: number; w: number; h: number };
  xMin: number; xMax: number; xTicks: number[]; xRot: number; xYear: boolean;
  yMin: number; yMax: number; yTicks: number[];
  xTitle: Seg[]; xOff: number; yTitle: Seg[]; yOff: number;
  offsetText?: string;
  label: { t: string; x: number; y: number; right?: boolean; serif?: boolean };
  legend: { x: number; y: number; w: number; h: number; size: number; pad: number; mx: number; tx: number; items: LegItem[] };
  datasets: any[];
};

const scatter = (pts: Pt[], color: string, r: number, order: number) => ({
  data: toXY(pts), showLine: false, pointRadius: r, pointBackgroundColor: color, pointBorderWidth: 0, pointHoverRadius: 0, order,
});
const line = (pts: Pt[], color: string, w: number, order: number) => ({
  data: toXY(pts), showLine: true, pointRadius: 0, borderColor: color, borderWidth: w, order, tension: 0,
});

const phi = (extra: Seg[]): Seg[] => [{ t: "φ", it: true }, ...extra];
const phiHat = (extra: Seg[]): Seg[] => [{ t: "φ", it: true, hat: true }, ...extra];

const BOX_W = 290, BOX_H = 193;
const row1 = { cy: 0, ch: 268, by: 20 };
const row2 = { cy: 268, ch: 267, by: 16 };
const cols = [{ cx: 0, cw: 361 }, { cx: 361, cw: 359 }, { cx: 720, cw: 360 }];
const timeX = { xMin: 2014.55, xMax: 2024.25, xTicks: yearTicks, xRot: 60, xYear: true };

const phaseC = wrapped(phaseEst);
const phaseF = wrapped(dispPhase);

const panels: PanelSpec[] = [
  {
    id: "a", ...cols[0], ...{ cy: row1.cy, ch: row1.ch },
    box: { x: 65, y: row1.by, w: BOX_W, h: BOX_H },
    ...timeX, xMin: 2014.53, xMax: 2024.28,
    yMin: -2.75, yMax: 3.3, yTicks: realTicks,
    xTitle: [{ t: "Temporal baseline" }], xOff: 51, yTitle: [{ t: "Real part" }], yOff: 40,
    offsetText: "1e12",
    label: { t: "a)", x: 3, y: 6 },
    legend: { x: 178, y: 136, w: 105, h: 51, size: 14, pad: 4, mx: 14, tx: 26, items: [
      { kind: "dot", color: BLUE, segs: [{ t: "Obs: " }, { t: "Re" }, { t: "md", k: "sup", it: true }] },
      { kind: "line", color: PURPLE, segs: [{ t: "Est. " }, { t: "Re", hat: true }, { t: "md", k: "sup", it: true }] },
    ] },
    datasets: [line(realEst, PURPLE, 1.2, 0), scatter(realObs, BLUE, 1.8, 1)],
  },
  {
    id: "b", ...cols[1], ...{ cy: row1.cy, ch: row1.ch },
    box: { x: 65, y: row1.by, w: BOX_W, h: BOX_H },
    ...timeX, xMin: 2014.56, xMax: 2024.2,
    yMin: -4.1, yMax: 2.75, yTicks: imagTicks,
    xTitle: [{ t: "Temporal baseline" }], xOff: 51, yTitle: [{ t: "Imaginary part" }], yOff: 40,
    offsetText: "1e12",
    label: { t: "b)", x: 10, y: 6, serif: true },
    legend: { x: 5, y: 136, w: 115, h: 51, size: 14, pad: 4, mx: 14, tx: 26, items: [
      { kind: "dot", color: BLUE, segs: [{ t: "Obs: " }, { t: "Im", serif: true }, { t: "md", k: "sup", it: true }] },
      { kind: "line", color: PURPLE, segs: [{ t: "Est. " }, { t: "Im", serif: true, hat: true }, { t: "md", k: "sup", it: true }] },
    ] },
    datasets: [line(imagEst, PURPLE, 1.2, 0), scatter(imagObs, BLUE, 1.8, 1)],
  },
  {
    id: "c", ...cols[2], ...{ cy: row1.cy, ch: row1.ch },
    box: { x: 65, y: row1.by, w: BOX_W, h: BOX_H },
    ...timeX,
    yMin: -10.5, yMax: 10.1, yTicks: phaseTicks,
    xTitle: [{ t: "Temporal baseline" }], xOff: 51, yTitle: [{ t: "Phase [rad]" }], yOff: 47,
    label: { t: "c)", x: 8, y: 6, right: true },
    legend: { x: -2, y: -15, w: 78, h: 64, size: 11.5, pad: 3, mx: 10, tx: 19, items: [
      { kind: "dot", color: BLUE, segs: [{ t: "Obs: " }, ...phi([{ t: "w,md", k: "sup", it: true }])] },
      { kind: "dot", color: RED, segs: [{ t: "Est: " }, ...phi([{ t: "md", k: "sup", it: true }])] },
      { kind: "line", color: PURPLE2, segs: [{ t: "Est. " }, ...phiHat([{ t: "md", k: "sup", it: true }])] },
    ] },
    datasets: [line(phaseEstLine, "#7d1a8a", 1.2, 0), scatter(phaseEst, RED, 2.1, 1), scatter(phaseC, BLUE, 1.8, 2), scatter(copies(phaseC), GREY, 1.3, 3)],
  },
  {
    id: "d", ...cols[0], ...{ cy: row2.cy, ch: row2.ch },
    box: { x: 65, y: row2.by, w: BOX_W, h: BOX_H },
    xMin: -4.55, xMax: 28.3, xTicks: thermalTicks, xRot: 0, xYear: false,
    yMin: -10.5, yMax: 10.25, yTicks: phaseTicks,
    xTitle: [{ t: "Thermal baseline [" }, { t: "Δ" }, { t: "K", it: true }, { t: "]" }], xOff: 35,
    yTitle: [{ t: "Wrapped phase [rad]" }], yOff: 47,
    label: { t: "d)", x: 3, y: 7 },
    legend: { x: 182, y: 8, w: 96, h: 56, size: 12.5, pad: 4, mx: 12, tx: 22, items: [
      { kind: "dot", color: BLUE, segs: [{ t: "Obs: " }, ...phi([{ t: "w,md", k: "sup", it: true }])] },
      { kind: "line", color: PURPLE2, segs: [{ t: "Est. " }, ...phiHat([{ t: "η", k: "sub", it: true }])] },
    ] },
    datasets: [line(thermalFit, PURPLE2, 1.2, 0), scatter(thermalObs, BLUE, 1.6, 1), scatter(copies(thermalObs), GREY, 1.2, 2)],
  },
  {
    id: "e", ...cols[1], ...{ cy: row2.cy, ch: row2.ch },
    box: { x: 65, y: row2.by, w: BOX_W, h: BOX_H },
    xMin: -259, xMax: 178, xTicks: perpTicks, xRot: 0, xYear: false,
    yMin: -10.2, yMax: 10.35, yTicks: phaseTicks,
    xTitle: [{ t: "Perpendicular baseline [m]" }], xOff: 35,
    yTitle: [{ t: "Wrapped phase [rad]" }], yOff: 48,
    label: { t: "e)", x: 3, y: 1, right: true },
    legend: { x: 5, y: 3, w: 111, h: 51, size: 14, pad: 4, mx: 14, tx: 26, items: [
      { kind: "dot", color: BLUE, segs: [{ t: "Obs: " }, ...phi([{ t: "w,md", k: "sup", it: true }])] },
      { kind: "line", color: PURPLE2, segs: [{ t: "Est. " }, ...phiHat([{ t: "h", k: "sub", it: true }, { t: "xr", k: "sub2", it: true }])] },
    ] },
    datasets: [line(perpFit, PURPLE2, 1.2, 0), scatter(perpObs, BLUE, 1.6, 1), scatter(copies(perpObs), GREY, 1.2, 2)],
  },
  {
    id: "f", ...cols[2], ...{ cy: row2.cy, ch: row2.ch },
    box: { x: 65, y: row2.by, w: BOX_W, h: BOX_H },
    ...timeX,
    yMin: -10.4, yMax: 12.2, yTicks: phaseTicks,
    xTitle: [{ t: "Temporal baseline" }], xOff: 51, yTitle: [{ t: "Phase [rad]" }], yOff: 48,
    label: { t: "f)", x: 7, y: 0, right: true, serif: true },
    legend: { x: -3, y: 4, w: 91, h: 51, size: 13, pad: 4, mx: 13, tx: 24, items: [
      { kind: "dot", color: RED, segs: [{ t: "Est: " }, ...phiHat([{ t: "′md", k: "sup", it: true }])] },
      { kind: "line", color: PURPLE2, segs: [{ t: "Est. " }, ...phiHat([{ t: "md", k: "sup", it: true, under: "D" }])] },
    ] },
    datasets: [line(dispModel, "#7a1f8f", 1.9, 0), scatter(dispPhase, RED, 2.1, 1), scatter(copies(phaseF), GREY, 1.3, 2)],
  },
];

function makeDeco(spec: PanelSpec) {
  return {
    id: "deco_" + spec.id,
    afterDraw(chart: any) {
      const ctx: CanvasRenderingContext2D = chart.ctx;
      const a = chart.chartArea;
      ctx.save();
      ctx.strokeStyle = "#222";
      ctx.lineWidth = 1;
      ctx.strokeRect(Math.round(a.left) - 0.5, Math.round(a.top) - 0.5, Math.round(a.right - a.left) + 1, Math.round(a.bottom - a.top) + 1);
      ctx.fillStyle = "#000";
      ctx.textAlign = "left";
      ctx.textBaseline = "alphabetic";
      const TS = 15;
      const xw = richWidth(ctx, spec.xTitle, TS);
      drawRich(ctx, spec.xTitle, (a.left + a.right) / 2 - xw / 2, a.bottom + spec.xOff + TS * 0.36, TS);
      const yw = richWidth(ctx, spec.yTitle, TS);
      ctx.save();
      ctx.translate(a.left - spec.yOff, (a.top + a.bottom) / 2);
      ctx.rotate(-Math.PI / 2);
      drawRich(ctx, spec.yTitle, -yw / 2, TS * 0.36, TS);
      ctx.restore();
      if (spec.offsetText) {
        ctx.font = `10px ${SANS}`;
        ctx.fillStyle = "#000";
        ctx.fillText(spec.offsetText, a.left, a.top - 3);
      }
      const lb = spec.label;
      ctx.font = `25px ${lb.serif ? SERIF : SANS}`;
      ctx.textBaseline = "top";
      ctx.fillStyle = "#000";
      if (lb.right) {
        ctx.textAlign = "right";
        ctx.fillText(lb.t, a.right - lb.x, a.top + lb.y);
      } else {
        ctx.textAlign = "left";
        ctx.fillText(lb.t, a.left + lb.x, a.top + lb.y);
      }
      ctx.textAlign = "left";
      ctx.textBaseline = "alphabetic";
      const L = spec.legend;
      const lx = Math.round(a.left + L.x), ly = Math.round(a.top + L.y);
      ctx.fillStyle = "#fff";
      ctx.fillRect(lx, ly, L.w, L.h);
      ctx.strokeStyle = "#000";
      ctx.lineWidth = 1;
      ctx.strokeRect(lx + 0.5, ly + 0.5, L.w, L.h);
      const rowH = (L.h - 2 * L.pad) / L.items.length;
      L.items.forEach((it, i) => {
        const cy = ly + L.pad + rowH * (i + 0.5);
        if (it.kind === "dot") {
          ctx.fillStyle = it.color;
          ctx.beginPath();
          ctx.arc(lx + L.mx, cy, 3, 0, TAU);
          ctx.fill();
        } else {
          ctx.strokeStyle = it.color;
          ctx.lineWidth = 2;
          ctx.beginPath();
          ctx.moveTo(lx + L.mx - 8, cy);
          ctx.lineTo(lx + L.mx + 8, cy);
          ctx.stroke();
        }
        ctx.fillStyle = "#000";
        drawRich(ctx, it.segs, lx + L.tx, cy + L.size * 0.36, L.size);
      });
      ctx.restore();
    },
  };
}

function buildConfig(spec: PanelSpec): any {
  const b = spec.box;
  const gridCfg = { drawOnChartArea: false, drawTicks: true, tickLength: 4, color: "#000", lineWidth: 1 };
  return {
    type: "scatter",
    data: { datasets: spec.datasets },
    options: {
      responsive: false,
      animation: false,
      devicePixelRatio: 1,
      events: [],
      layout: { padding: { left: 0, top: b.y, right: spec.cw - b.x - b.w, bottom: 0 } },
      plugins: { legend: { display: false }, tooltip: { enabled: false } },
      scales: {
        x: {
          type: "linear", position: "bottom", min: spec.xMin, max: spec.xMax,
          afterBuildTicks: (ax: any) => { ax.ticks = spec.xTicks.map((v) => ({ value: v })); },
          afterFit: (s: any) => { s.height = spec.ch - b.y - b.h; s.paddingLeft = 0; s.paddingRight = 0; },
          ticks: {
            autoSkip: false, minRotation: spec.xRot, maxRotation: spec.xRot, padding: 2,
            color: "#000", font: { size: 12, family: SANS },
            callback: (v: number) => (spec.xYear ? String(v) : fmt(v)),
          },
          grid: gridCfg,
          border: { display: true, color: "#000", width: 1 },
        },
        y: {
          type: "linear", position: "left", min: spec.yMin, max: spec.yMax,
          afterBuildTicks: (ax: any) => { ax.ticks = spec.yTicks.map((v) => ({ value: v })); },
          afterFit: (s: any) => { s.width = b.x; s.paddingTop = 0; s.paddingBottom = 0; },
          ticks: { autoSkip: false, padding: 3, color: "#000", font: { size: 12, family: SANS }, callback: (v: number) => fmt(v) },
          grid: gridCfg,
          border: { display: true, color: "#000", width: 1 },
        },
      },
    },
    plugins: [makeDeco(spec)],
  };
}

function Panel({ spec }: { spec: PanelSpec }) {
  const ref = useRef<HTMLCanvasElement>(null);
  useEffect(() => {
    if (!ref.current) return;
    const chart = new Chart(ref.current, buildConfig(spec));
    return () => chart.destroy();
  }, [spec]);
  return (
    <canvas
      ref={ref}
      width={spec.cw}
      height={spec.ch}
      style={{ position: "absolute", left: spec.cx, top: spec.cy, width: spec.cw, height: spec.ch }}
    />
  );
}

export default function App() {
  return (
    <div
      style={{
        position: "absolute", left: 0, top: 0, width: 1080, height: 535, background: "#fff",
        transformOrigin: "0 0", transform: "translate(0px, 1080px) rotate(-90deg)",
      }}
    >
      {panels.map((p) => (
        <Panel key={p.id} spec={p} />
      ))}
    </div>
  );
}
